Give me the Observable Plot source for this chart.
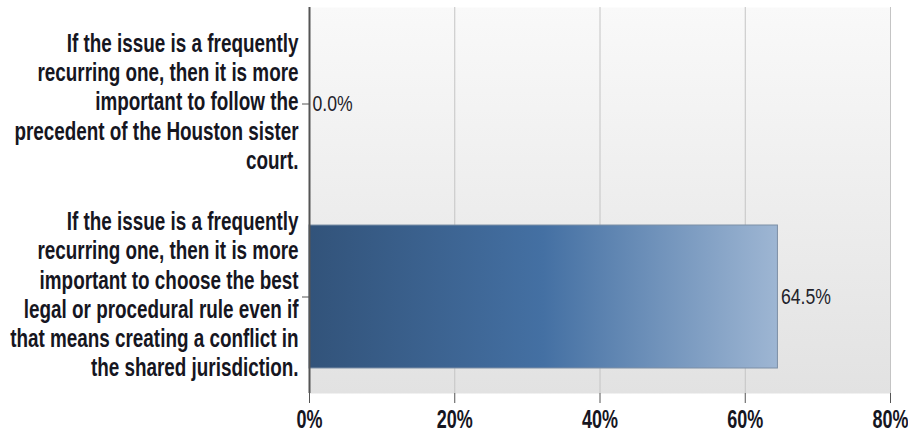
<!DOCTYPE html>
<html>
<head>
<meta charset="utf-8">
<script src="https://cdn.jsdelivr.net/npm/d3@7"></script>
<script src="https://cdn.jsdelivr.net/npm/@observablehq/plot@0.6"></script>
<style>
  html, body { margin: 0; padding: 0; background: #ffffff; }
  #chart svg { display: block; }
</style>
</head>
<body>
<div id="chart"></div>
<script>
const categories = [
  "If the issue is a frequently\nrecurring one, then it is more\nimportant to follow the\nprecedent of the Houston sister\ncourt.",
  "If the issue is a frequently\nrecurring one, then it is more\nimportant to choose the best\nlegal or procedural rule even if\nthat means creating a conflict in\nthe shared jurisdiction."
];
const values = [0.0, 64.5];
const xTicks = [0, 20, 40, 60, 80];

const data = categories.map((c, i) => ({category: c, value: values[i]}));
const FONT = "'Liberation Sans', Arial, sans-serif";

const chart = Plot.plot({
  width: 908,
  height: 434,
  marginLeft: 309,
  marginRight: 18,
  marginTop: 7,
  marginBottom: 41,
  style: {fontFamily: FONT, background: "#ffffff", overflow: "visible"},
  x: {domain: [0, 80], ticks: xTicks, label: null},
  y: {domain: categories, paddingInner: 0.26, paddingOuter: 0.13, label: null},
  marks: [
    Plot.frame({fill: "url(#bgGrad)", stroke: "none"}),
    Plot.gridX(xTicks.filter(d => d > 0), {stroke: "#c4c4c4", strokeOpacity: 1, strokeWidth: 1}),
    Plot.barX(data, {x: "value", y: "category", fill: "url(#barGrad)", stroke: "#7d8fa6", strokeWidth: 1}),
    Plot.ruleX([0], {stroke: "#555555", strokeWidth: 2}),
    Plot.ruleY([0], {frameAnchor: "bottom", stroke: "#555555", strokeWidth: 2}),
    Plot.axisX({ticks: xTicks, tickSize: 10, tickPadding: 7, tickFormat: d => d + "%", label: null,
      fontSize: 25, fontWeight: "bold", fill: "#16161f", stroke: "#555555", className: "xlab"}),
    Plot.axisY({tickSize: 7, tickFormat: null, label: null, stroke: "#555555"}),
    Plot.text(data, {x: () => 0, y: "category", text: "category", textAnchor: "end", dx: -11, dy: -3,
      fontSize: 25, fontWeight: "bold", lineHeight: 1.17, fill: "#16161f", className: "ylab"}),
    Plot.text(data, {x: "value", y: "category", text: d => d.value.toFixed(1) + "%", textAnchor: "start", dx: 3,
      fontSize: 22, fill: "#22222a", className: "vlab"})
  ]
});

const defs = d3.create("svg:defs");
const bg = defs.append("linearGradient").attr("id", "bgGrad").attr("x1", 0).attr("y1", 0).attr("x2", 0).attr("y2", 1);
bg.append("stop").attr("offset", "0%").attr("stop-color", "#f9f9f9");
bg.append("stop").attr("offset", "100%").attr("stop-color", "#e2e2e2");
const bar = defs.append("linearGradient").attr("id", "barGrad").attr("x1", 0).attr("y1", 0).attr("x2", 1).attr("y2", 0);
bar.append("stop").attr("offset", "0%").attr("stop-color", "#32537a");
bar.append("stop").attr("offset", "50%").attr("stop-color", "#4470a3");
bar.append("stop").attr("offset", "100%").attr("stop-color", "#9eb6d3");
chart.insertBefore(defs.node(), chart.firstChild);

// narrow (condensed) lettering: squeeze texts horizontally around their anchors
function narrow(sel, k) {
  d3.select(chart).selectAll(sel).each(function() {
    const t = d3.select(this);
    let tr = t.attr("transform");
    if (!tr) {
      const x = +(t.attr("x") || 0), y = +(t.attr("y") || 0);
      tr = `translate(${x},${y})`;
      t.attr("x", null).attr("y", null);
    }
    t.attr("transform", tr + ` scale(${k},1)`);
  });
}
narrow(".xlab text", 0.72);
narrow(".ylab text", 0.755);
narrow(".vlab text", 0.8);

document.getElementById("chart").appendChild(chart);
</script>
</body>
</html>
